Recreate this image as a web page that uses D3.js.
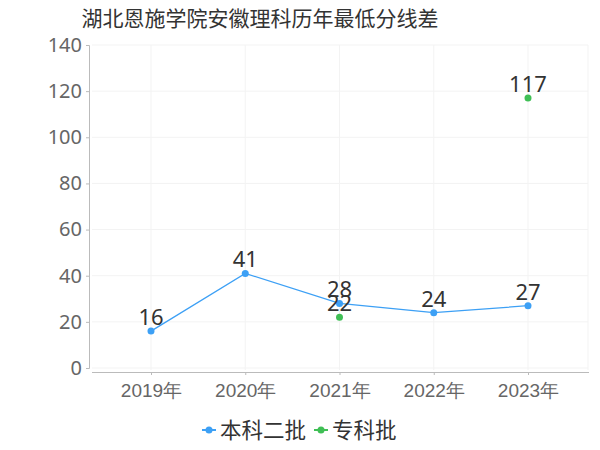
<!DOCTYPE html>
<html><head><meta charset="utf-8">
<script src="https://cdn.jsdelivr.net/npm/d3@7"></script>
<style>body{margin:0;background:#fff;}svg{display:block;font-family:"Noto Sans CJK SC","Noto Sans",sans-serif;}</style>
</head><body><svg id="c" width="600" height="450"></svg>
<script>
const title = "湖北恩施学院安徽理科历年最低分线差";
const categories = ["2019年","2020年","2021年","2022年","2023年"];
const seriesNames = ["本科二批","专科批"];
const benke2 = [16,41,28,24,27];
const zhuanke = [null,null,22,null,117];
const yTicks = [0,20,40,60,80,100,120,140];
const colors = ["#3da0f5","#3fbf55"];

const svg = d3.select("#c");
const x = d3.scalePoint().domain(categories).range([151,528]);
const y = d3.scaleLinear().domain([0,140]).range([368,45]);

// grid
const g = svg.append("g");
g.selectAll(".hg").data(yTicks).join("line")
  .attr("x1",92).attr("x2",588).attr("y1",d=>y(d)).attr("y2",d=>y(d))
  .attr("stroke","#f3f3f3");
g.selectAll(".vg").data(categories).join("line")
  .attr("x1",d=>x(d)).attr("x2",d=>x(d)).attr("y1",45).attr("y2",370)
  .attr("stroke","#f3f3f3");
g.append("line").attr("x1",588).attr("x2",588).attr("y1",45).attr("y2",370).attr("stroke","#f3f3f3");

// y axis
const yAxis = svg.append("g").attr("transform","translate(89,0)")
  .call(d3.axisLeft(y).tickValues(yTicks).tickSize(3).tickPadding(4));
yAxis.select(".domain").attr("stroke","#bbb").attr("d","M-3,45.5H0.5V368.5H-3");
yAxis.selectAll(".tick line").attr("stroke","#bbb");
yAxis.selectAll("text").attr("fill","#666").style("font-size","20px").style("font-family","'Noto Sans',sans-serif");

// x axis
const xAxis = svg.append("g").attr("transform","translate(0,372)")
  .call(d3.axisBottom(x).tickSize(3).tickPadding(6));
xAxis.select(".domain").attr("stroke","#bbb").attr("d","M92,0.5H589");
xAxis.selectAll(".tick line").attr("stroke","#bbb");
xAxis.selectAll("text").attr("fill","#666").style("font-size","19px").attr("dy","0.85em");

// line
const line = d3.line().defined(d=>d!=null).x((d,i)=>x(categories[i])).y(d=>y(d));
svg.append("path").datum(benke2).attr("d",line).attr("fill","none").attr("stroke",colors[0]).attr("stroke-width",1.3);
svg.append("path").datum(zhuanke).attr("d",line).attr("fill","none").attr("stroke",colors[1]).attr("stroke-width",1.3);

[benke2, zhuanke].forEach((s,si)=>{
  const pts = s.map((v,i)=>({v,c:categories[i]})).filter(d=>d.v!=null);
  svg.selectAll(null).data(pts).join("circle")
    .attr("cx",d=>x(d.c)).attr("cy",d=>y(d.v)).attr("r",3.5).attr("fill",colors[si]);
});
[benke2, zhuanke].forEach((s,si)=>{
  const pts = s.map((v,i)=>({v,c:categories[i]})).filter(d=>d.v!=null);
  svg.selectAll(null).data(pts).join("text")
    .attr("x",d=>x(d.c)).attr("y",d=>y(d.v)-6).attr("text-anchor","middle")
    .attr("fill","#333").style("font-size","22px").style("font-family","'Noto Sans',sans-serif")
    .text(d=>d.v);
});

// title
svg.append("text").attr("x",260).attr("y",26).attr("text-anchor","middle")
  .attr("fill","#333").style("font-size","21px").text(title);

// legend
const leg = [{n:seriesNames[0],c:colors[0],x:202},{n:seriesNames[1],c:colors[1],x:314}];
leg.forEach(l=>{
  svg.append("line").attr("x1",l.x).attr("x2",l.x+14).attr("y1",430).attr("y2",430).attr("stroke",l.c).attr("stroke-width",2);
  svg.append("circle").attr("cx",l.x+7).attr("cy",430).attr("r",3.5).attr("fill",l.c);
  svg.append("text").attr("x",l.x+18).attr("y",438).attr("fill","#333").style("font-size","21.5px").text(l.n);
});
</script></body></html>
